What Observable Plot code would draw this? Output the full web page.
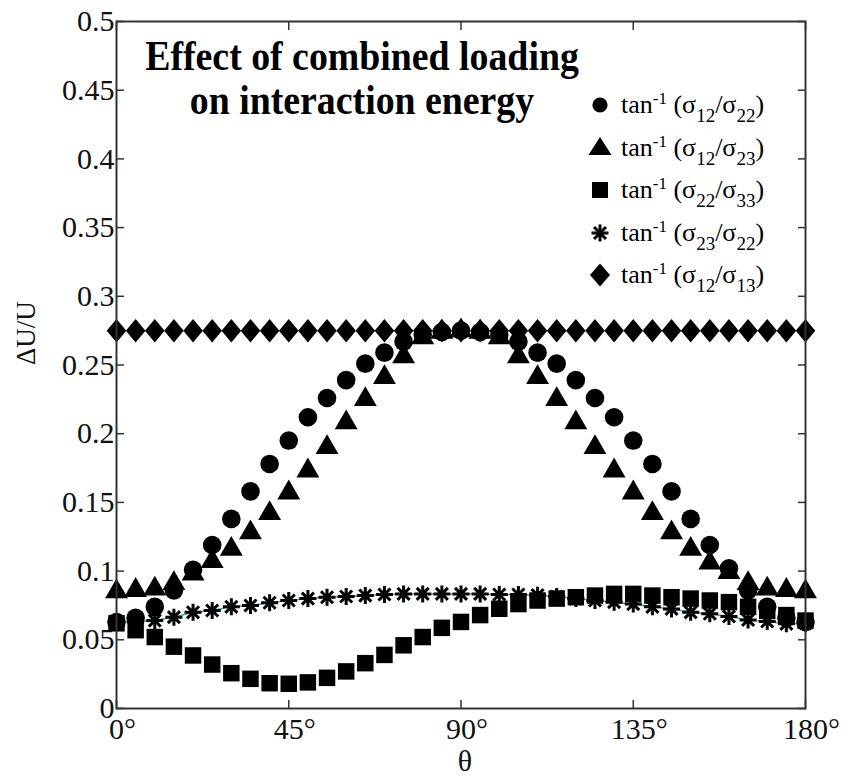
<!DOCTYPE html>
<html>
<head>
<meta charset="utf-8">
<script src="https://cdn.jsdelivr.net/npm/d3@7"></script>
<script src="https://cdn.jsdelivr.net/npm/@observablehq/plot@0.6"></script>
<style>
  body { margin: 0; background: #fff; }
  #wrap { position: relative; width: 847px; height: 781px; font-family: "Liberation Serif", "Times New Roman", serif; color: #000; }
  #wrap svg.plot { position: absolute; left: 0; top: 0; font-family: "Liberation Serif", "Times New Roman", serif; }
  #wrap svg.plot text { font-family: "Liberation Serif", "Times New Roman", serif; }
  #title { position: absolute; left: 112px; width: 500px; top: 34px; text-align: center; font-weight: bold; font-size: 42px; line-height: 44px; transform: scaleX(0.9); transform-origin: 50% 0; }
  .row { position: absolute; left: 586px; height: 30px; display: flex; align-items: center; font-size: 26px; white-space: nowrap; }
  .row svg { width: 28px; height: 28px; flex: none; }
  .row span.t { margin-left: 7px; }
  .row sub { font-size: 19px; line-height: 0; vertical-align: -9px; }
  .row sup { font-size: 17px; line-height: 0; vertical-align: 9px; }
</style>
</head>
<body>
<div id="wrap"></div>
<script>
// ---- data ----
const theta = [0,5,10,15,20,25,30,35,40,45,50,55,60,65,70,75,80,85,90,95,100,105,110,115,120,125,130,135,140,145,150,155,160,165,170,175,180];

// tan^-1(σ12/σ22)  — circles
const circleVals = [0.063,0.066,0.074,0.086,0.101,0.119,0.138,0.158,0.178,0.195,0.212,0.226,0.239,0.251,0.259,0.267,0.272,0.274,0.275,
                    0.274,0.272,0.267,0.259,0.251,0.239,0.226,0.212,0.195,0.178,0.158,0.138,0.119,0.102,0.086,0.074,0.066,0.063];
// tan^-1(σ12/σ23)  — triangles
const triangleVals = [0.085,0.086,0.087,0.091,0.098,0.107,0.116,0.128,0.142,0.157,0.173,0.190,0.208,0.225,0.241,0.256,0.270,0.274,0.275,
                      0.274,0.270,0.256,0.241,0.225,0.208,0.190,0.173,0.157,0.142,0.128,0.116,0.106,0.099,0.091,0.087,0.086,0.085];
// tan^-1(σ22/σ33)  — squares
const squareVals = [0.062,0.057,0.052,0.045,0.0386,0.032,0.0257,0.0216,0.0184,0.018,0.019,0.0223,0.027,0.033,0.039,0.046,0.052,0.0587,0.063,
                    0.068,0.0726,0.076,0.0786,0.080,0.081,0.0822,0.0834,0.0834,0.0822,0.081,0.080,0.0786,0.0774,0.074,0.071,0.068,0.064];
// tan^-1(σ23/σ22)  — asterisks
const starVals = [0.063,0.063,0.064,0.0665,0.070,0.0713,0.074,0.075,0.077,0.0786,0.080,0.081,0.0815,0.0822,0.083,0.0834,0.0834,0.0834,0.0834,
                  0.0834,0.083,0.083,0.0825,0.0815,0.080,0.0786,0.0774,0.076,0.074,0.0725,0.070,0.069,0.067,0.0645,0.0633,0.0616,0.062];
// tan^-1(σ12/σ13)  — diamonds
const diamondVals = [0.275,0.275,0.275,0.275,0.275,0.275,0.275,0.275,0.275,0.275,0.275,0.275,0.275,0.275,0.275,0.275,0.275,0.275,0.275,
                     0.275,0.275,0.275,0.275,0.275,0.275,0.275,0.275,0.275,0.275,0.275,0.275,0.275,0.275,0.275,0.275,0.275,0.275];

const xTicks = [0,45,90,135,180];
const xTickLabels = ["0°","45°","90°","135°","180°"];
const yTicks = [0,0.05,0.1,0.15,0.2,0.25,0.3,0.35,0.4,0.45,0.5];
const yTickLabels = ["0","0.05","0.1","0.15","0.2","0.25","0.3","0.35","0.4","0.45","0.5"];

const titleLines = ["Effect of combined loading", "on interaction energy"];
const yLabel = "ΔU/U";
const xLabel = "θ";
const legendItems = [
  {sym: "circle",   html: 'tan<sup>-1</sup> (σ<sub>12</sub>/σ<sub>22</sub>)'},
  {sym: "triangle", html: 'tan<sup>-1</sup> (σ<sub>12</sub>/σ<sub>23</sub>)'},
  {sym: "square",   html: 'tan<sup>-1</sup> (σ<sub>22</sub>/σ<sub>33</sub>)'},
  {sym: "star",     html: 'tan<sup>-1</sup> (σ<sub>23</sub>/σ<sub>22</sub>)'},
  {sym: "diamond",  html: 'tan<sup>-1</sup> (σ<sub>12</sub>/σ<sub>13</sub>)'}
];

// ---- build ----
const rows = vals => theta.map((t, i) => ({theta: t, v: vals[i]}));

const diamondSym = {draw(ctx, size) {
  const r = Math.sqrt(size / Math.PI);
  ctx.moveTo(0, -r * 1.2); ctx.lineTo(r, 0); ctx.lineTo(0, r * 1.2); ctx.lineTo(-r, 0); ctx.closePath();
}};
const starSym = {draw(ctx, size) {
  const r = Math.sqrt(size / Math.PI);
  for (let k = 0; k < 4; k++) {
    const a = k * Math.PI / 4;
    ctx.moveTo(r * Math.cos(a), r * Math.sin(a));
    ctx.lineTo(-r * Math.cos(a), -r * Math.sin(a));
  }
}};

const axisColor = "#333";
const serif = '"Liberation Serif", "Times New Roman", serif';

const chart = Plot.plot({
  width: 847,
  height: 781,
  marginLeft: 116,
  marginRight: 42,
  marginTop: 21,
  marginBottom: 73,
  style: `font-family: ${serif}; color: #111; background: #fff; overflow: visible;`,
  x: {domain: [0, 180]},
  y: {domain: [0, 0.5]},
  marks: [
    Plot.axisX({anchor: "bottom", ticks: xTicks, tickSize: 0, tickPadding: 9, dx: 6, fontSize: 30, fontFamily: serif,
      tickFormat: d => xTickLabels[xTicks.indexOf(d)], label: null}),
    Plot.axisX({anchor: "bottom", ticks: xTicks, tickSize: -8, tickFormat: () => "", label: null, stroke: axisColor, strokeWidth: 1.5}),
    Plot.axisX({anchor: "top", ticks: xTicks, tickSize: -8, tickFormat: () => "", label: null, stroke: axisColor, strokeWidth: 1.5}),
    Plot.axisY({anchor: "left", ticks: yTicks, tickSize: 0, tickPadding: 2, fontSize: 30, fontFamily: serif,
      tickFormat: d => yTickLabels[yTicks.indexOf(d)], label: null}),
    Plot.axisY({anchor: "left", ticks: yTicks, tickSize: -8, tickFormat: () => "", label: null, stroke: axisColor, strokeWidth: 1.5}),
    Plot.axisY({anchor: "right", ticks: yTicks, tickSize: -8, tickFormat: () => "", label: null, stroke: axisColor, strokeWidth: 1.5}),
    Plot.text([yLabel], {frameAnchor: "left", rotate: -90, dx: -90, fontSize: 27, fontFamily: serif, fill: "#111"}),
    Plot.text([xLabel], {frameAnchor: "bottom", dy: 62, dx: 4, fontSize: 30, fontFamily: serif, fill: "#111"}),
    Plot.dot(rows(diamondVals), {x: "theta", y: "v", symbol: diamondSym, r: 9.8, fill: "#000"}),
    Plot.line(rows(starVals), {x: "theta", y: "v", stroke: "#3aa9a9", strokeWidth: 1.5}),
    Plot.dot(rows(starVals), {x: "theta", y: "v", symbol: starSym, r: 8.5, fill: "none", stroke: "#000", strokeWidth: 3}),
    Plot.dot(rows(squareVals), {x: "theta", y: "v", symbol: "square", r: 9.3, fill: "#000"}),
    Plot.dot(rows(triangleVals), {x: "theta", y: "v", symbol: "triangle", r: 8.5, fill: "#000"}),
    Plot.dot(rows(circleVals), {x: "theta", y: "v", symbol: "circle", r: 9.3, fill: "#000"}),
    Plot.frame({stroke: axisColor, strokeWidth: 2})
  ]
});
chart.classList.add("plot");

const wrap = document.getElementById("wrap");
wrap.appendChild(chart);

// title (inside the plot area)
const title = document.createElement("div");
title.id = "title";
title.innerHTML = titleLines.join("<br>");
wrap.appendChild(title);

// legend
const legendSvg = {
  circle:   '<circle cx="14" cy="14" r="7.6" fill="#000"/>',
  triangle: '<path d="M14,3 L25.5,21 L2.5,21 Z" fill="#000"/>',
  square:   '<rect x="6" y="6" width="16" height="16" fill="#000"/>',
  star:     '<g stroke="#000" stroke-width="3"><line x1="14" y1="5.5" x2="14" y2="22.5"/><line x1="5.5" y1="14" x2="22.5" y2="14"/><line x1="8" y1="8" x2="20" y2="20"/><line x1="20" y1="8" x2="8" y2="20"/></g>',
  diamond:  '<path d="M14,2.5 L24,14 L14,25.5 L4,14 Z" fill="#000"/>'
};
const rowCenters = [105, 147.5, 190, 233, 275];
legendItems.forEach((it, i) => {
  const row = document.createElement("div");
  row.className = "row";
  row.style.top = (rowCenters[i] - 15) + "px";
  row.innerHTML = `<svg viewBox="0 0 28 28">${legendSvg[it.sym]}</svg><span class="t">${it.html}</span>`;
  wrap.appendChild(row);
});
</script>
</body>
</html>
